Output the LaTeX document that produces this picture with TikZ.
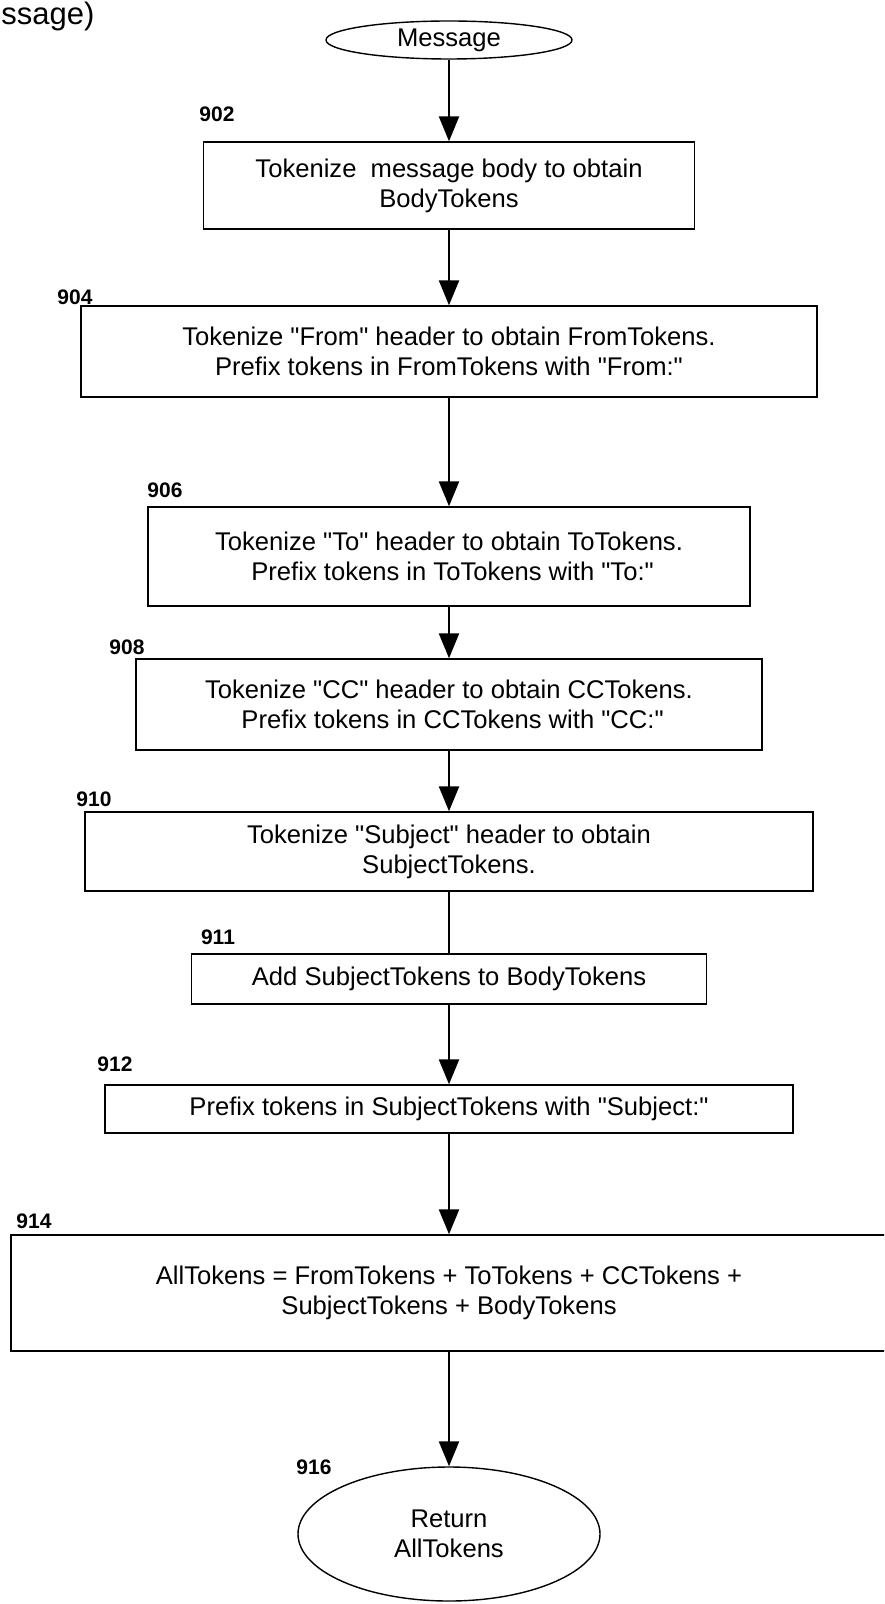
\documentclass[tikz,border=0pt]{standalone}
\usepackage{fontspec}
\setmainfont{Liberation Sans}[Ligatures=TeXOff]
\usetikzlibrary{shapes.geometric,arrows.meta}

\begin{document}
\begin{tikzpicture}[x=0.5pt, y=-0.5pt,
		box/.style={rectangle, draw, line width=0.7pt, align=center, inner sep=2pt, font=\fontsize{12.8}{15}\selectfont},
		oval/.style={ellipse, draw, line width=0.7pt, align=center, inner sep=0pt, font=\fontsize{12.8}{15}\selectfont},
		num/.style={font=\fontsize{10.5}{12}\selectfont\bfseries},
		flow/.style={line width=1.2pt, -{Triangle[width=10pt,length=12.5pt]}}]
			\path[use as bounding box] (0,0) rectangle (884,1604);
			\clip (0,0) rectangle (884,1604);
			% Nodes
			\node[anchor=base west, inner sep=0pt, font=\fontsize{15.5}{18}\selectfont] (prev) at (1,25) {ssage)};
			\node[oval, minimum width=123pt, minimum height=19pt] (msg) at (449,40) {Message};
			\node[box, minimum width=245.5pt, minimum height=43.5pt] (b902) at (449,185.5) {Tokenize\ \ message body to obtain\\BodyTokens};
			\node[box, minimum width=368pt, minimum height=45.5pt] (b904) at (449,351.5) {Tokenize "From" header to obtain FromTokens.\\Prefix tokens in FromTokens with "From:"};
			\node[box, minimum width=301pt, minimum height=49.5pt] (b906) at (449,556.5) {Tokenize "To" header to obtain ToTokens.\\\ Prefix tokens in ToTokens with "To:"};
			\node[box, minimum width=313pt, minimum height=45.5pt] (b908) at (449,704.5) {Tokenize "CC" header to obtain CCTokens.\\\ Prefix tokens in CCTokens with "CC:"};
			\node[box, minimum width=364pt, minimum height=39.5pt] (b910) at (449,851.5) {Tokenize "Subject" header to obtain\\SubjectTokens.};
			\node[box, minimum width=257.5pt, minimum height=25pt] (b911) at (449,979) {Add SubjectTokens to BodyTokens};
			\node[box, minimum width=344pt, minimum height=24pt] (b912) at (449,1109) {Prefix tokens in SubjectTokens with "Subject:"};
			\node[box, minimum width=438pt, minimum height=58pt] (b914) at (449,1293) {AllTokens = FromTokens + ToTokens + CCTokens +\\SubjectTokens + BodyTokens};
			\node[oval, minimum width=151pt, minimum height=67pt] (ret) at (449,1534) {Return\\AllTokens};
			% Labels
			\node[num] (n902) at (217,114) {902};
			\node[num] (n904) at (75,297) {904};
			\node[num] (n906) at (165,490) {906};
			\node[num] (n908) at (127,647) {908};
			\node[num] (n910) at (94,799) {910};
			\node[num] (n911) at (218,937) {911};
			\node[num] (n912) at (115,1064) {912};
			\node[num] (n914) at (34,1221) {914};
			\node[num] (n916) at (314,1467) {916};
			% Arrows
			\foreach \a/\b in {msg/b902, b902/b904, b904/b906, b906/b908, b908/b910, b911/b912, b912/b914, b914/ret} {
				\draw[flow] (\a) -- (\b);
			}
			\draw[line width=1.2pt] (b910) -- (b911);
		\end{tikzpicture}
\end{document}
